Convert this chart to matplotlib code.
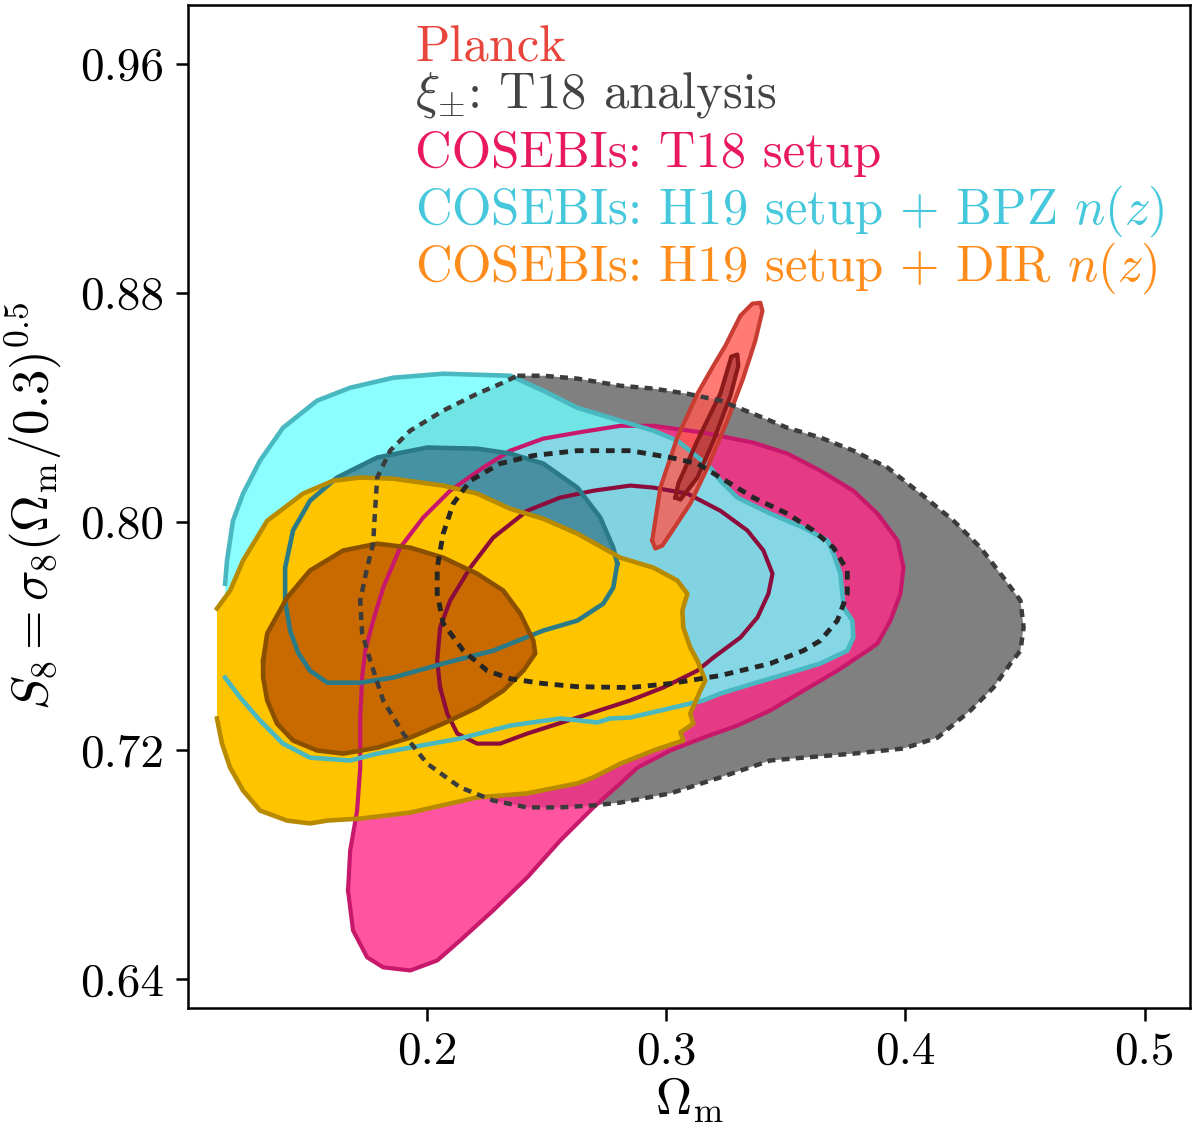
import matplotlib
matplotlib.use("Agg")
import matplotlib.pyplot as plt
from matplotlib.ticker import FormatStrFormatter

plt.rcParams['font.family'] = 'serif'
plt.rcParams['font.serif'] = ['cmr10']
plt.rcParams['mathtext.fontset'] = 'cm'
plt.rcParams['axes.formatter.use_mathtext'] = True

# contours: (Omega_m, S8) vertices
# xi_pm T18 analysis
t18_outer_om = [0.2377, 0.2485, 0.2628, 0.2808, 0.2946, 0.3088, 0.3226, 0.3364, 0.3506, 0.3644,
                0.3782, 0.3925, 0.4063, 0.4201, 0.4314, 0.4410, 0.4481, 0.4494, 0.4481, 0.4439,
                0.4368, 0.4272, 0.4134, 0.3992, 0.3782, 0.3573, 0.3435, 0.3226, 0.3017, 0.2808,
                0.2695, 0.2556, 0.2418, 0.2276, 0.2138, 0.2000, 0.1900, 0.1816, 0.1762, 0.1728,
                0.1720, 0.1749, 0.1774, 0.1782, 0.1791, 0.1845, 0.1929, 0.2067, 0.2209, 0.2318]
t18_outer_s8 = [0.8510, 0.8510, 0.8500, 0.8475, 0.8465, 0.8447, 0.8423, 0.8377, 0.8328, 0.8294,
                0.8248, 0.8189, 0.8098, 0.8003, 0.7909, 0.7804, 0.7724, 0.7630, 0.7549, 0.7504,
                0.7420, 0.7340, 0.7245, 0.7207, 0.7189, 0.7175, 0.7165, 0.7106, 0.7050, 0.7018,
                0.7008, 0.7001, 0.7001, 0.7025, 0.7071, 0.7154, 0.7259, 0.7375, 0.7514, 0.7609,
                0.7724, 0.7839, 0.7923, 0.8038, 0.8154, 0.8248, 0.8318, 0.8388, 0.8447, 0.8486]
t18_inner_om = [0.2849, 0.2628, 0.2444, 0.2305, 0.2180, 0.2109, 0.2067, 0.2042, 0.2042, 0.2067,
                0.2151, 0.2251, 0.2347, 0.2485, 0.2628, 0.2849, 0.3017, 0.3226, 0.3435, 0.3573,
                0.3644, 0.3715, 0.3757, 0.3757, 0.3699, 0.3615, 0.3506, 0.3364, 0.3226, 0.3130,
                0.3017]
t18_inner_s8 = [0.8248, 0.8248, 0.8231, 0.8203, 0.8143, 0.8063, 0.7958, 0.7839, 0.7748, 0.7644,
                0.7549, 0.7479, 0.7451, 0.7434, 0.7423, 0.7420, 0.7434, 0.7462, 0.7504, 0.7549,
                0.7584, 0.7654, 0.7748, 0.7829, 0.7909, 0.7969, 0.8028, 0.8084, 0.8154, 0.8203,
                0.8224]

# COSEBIs T18 setup
cos_t18_outer_om = [0.1669, 0.1678, 0.1707, 0.1720, 0.1720, 0.1728, 0.1741, 0.1774, 0.1816, 0.1887,
                    0.1983, 0.2096, 0.2234, 0.2347, 0.2485, 0.2628, 0.2808, 0.2946, 0.3155, 0.3364,
                    0.3506, 0.3644, 0.3782, 0.3883, 0.3967, 0.3992, 0.3979, 0.3937, 0.3883, 0.3841,
                    0.3715, 0.3573, 0.3435, 0.3297, 0.3155, 0.3017, 0.2879, 0.2808, 0.2695, 0.2556,
                    0.2418, 0.2276, 0.2138, 0.2042, 0.1929, 0.1816, 0.1749, 0.1690]
cos_t18_outer_s8 = [0.6711, 0.6850, 0.6990, 0.7140, 0.7315, 0.7455, 0.7549, 0.7654, 0.7769, 0.7909,
                    0.8014, 0.8108, 0.8189, 0.8248, 0.8290, 0.8311, 0.8335, 0.8335, 0.8311, 0.8276,
                    0.8238, 0.8178, 0.8108, 0.8028, 0.7934, 0.7839, 0.7748, 0.7654, 0.7574, 0.7549,
                    0.7479, 0.7409, 0.7340, 0.7287, 0.7245, 0.7200, 0.7140, 0.7085, 0.7001, 0.6885,
                    0.6756, 0.6641, 0.6536, 0.6466, 0.6431, 0.6442, 0.6477, 0.6571]
cos_t18_inner_om = [0.2054, 0.2042, 0.2054, 0.2096, 0.2180, 0.2276, 0.2418, 0.2556, 0.2695, 0.2849,
                    0.2946, 0.3088, 0.3226, 0.3339, 0.3406, 0.3444, 0.3427, 0.3381, 0.3310, 0.3197,
                    0.3130, 0.2987, 0.2849, 0.2628, 0.2418, 0.2305, 0.2209, 0.2126, 0.2084]
cos_t18_inner_s8 = [0.7420, 0.7514, 0.7630, 0.7724, 0.7839, 0.7944, 0.8038, 0.8084, 0.8108, 0.8126,
                    0.8119, 0.8098, 0.8038, 0.7969, 0.7899, 0.7818, 0.7748, 0.7665, 0.7595, 0.7525,
                    0.7479, 0.7420, 0.7375, 0.7315, 0.7259, 0.7224, 0.7224, 0.7259, 0.7329]

# COSEBIs H19 setup + BPZ n(z)
bpz_outer_om = [0.1155, 0.1163, 0.1188, 0.1230, 0.1301, 0.1397, 0.1540, 0.1678, 0.1858, 0.2067,
                0.2347, 0.2485, 0.2628, 0.2766, 0.2946, 0.3046, 0.3113, 0.3184, 0.3226, 0.3297,
                0.3435, 0.3573, 0.3674, 0.3699, 0.3728, 0.3736, 0.3741, 0.3778, 0.3782, 0.3757,
                0.3644, 0.3506, 0.3364, 0.3226, 0.3155, 0.3100, 0.2849, 0.2766, 0.2711, 0.2556,
                0.2347, 0.2138, 0.1929, 0.1791, 0.1678, 0.1510, 0.1397, 0.1301, 0.1218, 0.1155]
bpz_outer_s8 = [0.7783, 0.7864, 0.8003, 0.8098, 0.8213, 0.8328, 0.8423, 0.8468, 0.8503, 0.8517,
                0.8510, 0.8458, 0.8398, 0.8363, 0.8318, 0.8283, 0.8238, 0.8189, 0.8143, 0.8084,
                0.8028, 0.7979, 0.7934, 0.7888, 0.7818, 0.7748, 0.7700, 0.7654, 0.7595, 0.7549,
                0.7504, 0.7469, 0.7434, 0.7399, 0.7375, 0.7364, 0.7315, 0.7312, 0.7298, 0.7312,
                0.7287, 0.7242, 0.7210, 0.7189, 0.7165, 0.7175, 0.7224, 0.7305, 0.7385, 0.7455]
bpz_inner_om = [0.2795, 0.2778, 0.2724, 0.2628, 0.2485, 0.2347, 0.2209, 0.2000, 0.1791, 0.1623,
                0.1510, 0.1439, 0.1406, 0.1406, 0.1427, 0.1460, 0.1510, 0.1582, 0.1720, 0.1858,
                0.2067, 0.2276, 0.2485, 0.2628, 0.2736, 0.2778]
bpz_inner_s8 = [0.7853, 0.7909, 0.8014, 0.8119, 0.8203, 0.8238, 0.8255, 0.8259, 0.8224, 0.8154,
                0.8073, 0.7969, 0.7839, 0.7724, 0.7619, 0.7542, 0.7479, 0.7437, 0.7437, 0.7455,
                0.7504, 0.7549, 0.7619, 0.7654, 0.7713, 0.7769]

# COSEBIs H19 setup + DIR n(z)
dir_outer_om = [0.1121, 0.1176, 0.1230, 0.1331, 0.1481, 0.1607, 0.1720, 0.1858, 0.2067, 0.2209,
                0.2347, 0.2485, 0.2628, 0.2808, 0.2946, 0.3046, 0.3088, 0.3067, 0.3071, 0.3100,
                0.3130, 0.3163, 0.3142, 0.3100, 0.3113, 0.3059, 0.3071, 0.2946, 0.2808, 0.2695,
                0.2628, 0.2418, 0.2209, 0.1929, 0.1720, 0.1582, 0.1510, 0.1414, 0.1301, 0.1230,
                0.1176, 0.1142, 0.1121]
dir_outer_s8 = [0.7696, 0.7759, 0.7864, 0.8003, 0.8098, 0.8143, 0.8154, 0.8150, 0.8126, 0.8098,
                0.8045, 0.8010, 0.7958, 0.7874, 0.7839, 0.7794, 0.7748, 0.7689, 0.7630, 0.7560,
                0.7514, 0.7444, 0.7409, 0.7329, 0.7294, 0.7263, 0.7235, 0.7200, 0.7154, 0.7106,
                0.7085, 0.7050, 0.7036, 0.6983, 0.6962, 0.6955, 0.6945, 0.6955, 0.6990, 0.7060,
                0.7140, 0.7224, 0.7312]
dir_inner_om = [0.1314, 0.1331, 0.1414, 0.1510, 0.1649, 0.1791, 0.1929, 0.2067, 0.2209, 0.2318,
                0.2389, 0.2444, 0.2452, 0.2402, 0.2318, 0.2209, 0.2067, 0.1929, 0.1791, 0.1649,
                0.1540, 0.1439, 0.1372, 0.1331, 0.1314]
dir_inner_s8 = [0.7514, 0.7609, 0.7734, 0.7829, 0.7899, 0.7923, 0.7909, 0.7874, 0.7818, 0.7759,
                0.7679, 0.7584, 0.7539, 0.7479, 0.7409, 0.7350, 0.7294, 0.7245, 0.7210, 0.7189,
                0.7200, 0.7235, 0.7294, 0.7375, 0.7455]

# Planck
planck_outer_om = [0.2941, 0.2954, 0.2983, 0.3017, 0.3100, 0.3172, 0.3255, 0.3322, 0.3372, 0.3402,
                   0.3393, 0.3360, 0.3310, 0.3247, 0.3197, 0.3130, 0.3046, 0.2975]
planck_outer_s8 = [0.7934, 0.7906, 0.7916, 0.7958, 0.8063, 0.8189, 0.8353, 0.8503, 0.8632, 0.8737,
                   0.8765, 0.8762, 0.8720, 0.8615, 0.8545, 0.8447, 0.8294, 0.8119]
planck_inner_om = [0.3038, 0.3059, 0.3130, 0.3197, 0.3268, 0.3301, 0.3297, 0.3272, 0.3226, 0.3130,
                   0.3050]
planck_inner_s8 = [0.8084, 0.8077, 0.8154, 0.8283, 0.8440, 0.8545, 0.8584, 0.8577, 0.8447, 0.8283,
                   0.8133]

labels = ['Planck', r'$\xi_{\pm}$: T18 analysis', 'COSEBIs: T18 setup',
          r'COSEBIs: H19 setup + BPZ $n(z)$', r'COSEBIs: H19 setup + DIR $n(z)$']
label_colors = ['#e8453c', '#444444', '#e8195e', '#45c8dc', '#ff8c1a']

xticks = [0.2, 0.3, 0.4, 0.5]
yticks = [0.64, 0.72, 0.80, 0.88, 0.96]


def closed(a):
    return list(a) + [a[0]]


fig = plt.figure(figsize=(12, 11.31), dpi=100)
ax = fig.add_axes([0.1567, 0.1088, 0.835, 0.8868])

# fills
ax.fill(t18_outer_om, t18_outer_s8, color='#808080', lw=0, zorder=1)
ax.fill(cos_t18_outer_om, cos_t18_outer_s8, color='#ff2a88', alpha=0.8, lw=0, zorder=2)
ax.fill(cos_t18_inner_om, cos_t18_inner_s8, color='#c01868', alpha=0.6, lw=0, zorder=2)
ax.fill(bpz_outer_om, bpz_outer_s8, color='#6effff', alpha=0.8, lw=0, zorder=3)
ax.fill(bpz_inner_om, bpz_inner_s8, color='#3a7e92', alpha=0.8, lw=0, zorder=3)
ax.fill(dir_outer_om, dir_outer_s8, color='#ffc400', lw=0, zorder=4)
ax.fill(dir_inner_om, dir_inner_s8, color='#c86a00', lw=0, zorder=4)
ax.fill(planck_outer_om, planck_outer_s8, color='#ff5a50', alpha=0.8, lw=0, zorder=5)
ax.fill(planck_inner_om, planck_inner_s8, color='#b43c3c', alpha=0.8, lw=0, zorder=5)

# contour edges
ax.plot(closed(cos_t18_outer_om), closed(cos_t18_outer_s8), color='#c8186c', lw=3.0, zorder=6)
ax.plot(closed(cos_t18_inner_om), closed(cos_t18_inner_s8), color='#8c0c3c', lw=3.0, zorder=6)
ax.plot(bpz_outer_om, bpz_outer_s8, color='#4ab8c0', lw=3.3, zorder=6)
ax.plot(closed(bpz_inner_om), closed(bpz_inner_s8), color='#2b7a88', lw=3.3, zorder=6)
ax.plot(dir_outer_om, dir_outer_s8, color='#b88a00', lw=3.3, zorder=6)
ax.plot(closed(dir_inner_om), closed(dir_inner_s8), color='#8a5000', lw=3.3, zorder=6)
ax.plot(closed(planck_outer_om), closed(planck_outer_s8), color='#c83c32', lw=3.0, zorder=7)
ax.plot(closed(planck_inner_om), closed(planck_inner_s8), color='#8c1a1a', lw=3.0, zorder=7)
ax.plot(closed(t18_outer_om), closed(t18_outer_s8), color='#3c3c3c', lw=3.2,
        dashes=(1.8, 1.4), zorder=8)
ax.plot(closed(t18_inner_om), closed(t18_inner_s8), color='#262626', lw=3.5,
        dashes=(1.8, 1.4), zorder=8)

ax.set_xlim(0.1, 0.519)
ax.set_ylim(0.63, 0.9806)
ax.set_xticks(xticks)
ax.set_yticks(yticks)
ax.xaxis.set_major_formatter(FormatStrFormatter('%.1f'))
ax.yaxis.set_major_formatter(FormatStrFormatter('%.2f'))
ax.tick_params(labelsize=34, length=9, width=1.8, pad=8, direction='out')
for sp in ax.spines.values():
    sp.set_linewidth(1.8)

ax.set_xlabel(r'$\Omega_{\rm m}$', fontsize=36, labelpad=2)
ax.set_ylabel(r'$S_8=\sigma_8(\Omega_{\rm m}/0.3)^{0.5}$', fontsize=36.5, labelpad=12)

# coloured legend text
label_y = [0.9432, 0.8973, 0.8385, 0.7818, 0.7248]
for lab, col, yy in zip(labels, label_colors, label_y):
    ax.text(0.2265, yy, lab, color=col, fontsize=36.5, transform=ax.transAxes,
            va='baseline', ha='left', zorder=10)

fig.savefig('out.png', dpi=100)
